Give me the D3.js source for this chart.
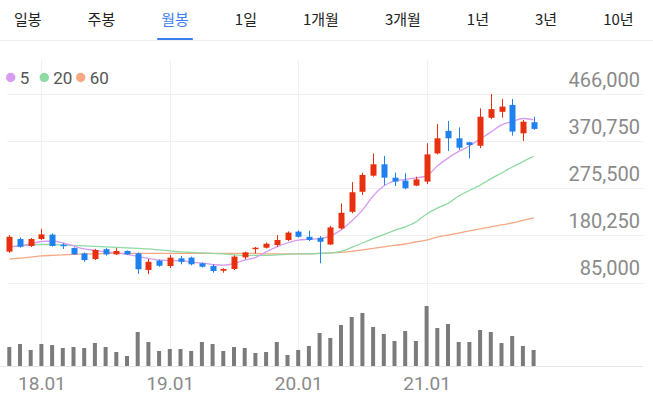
<!DOCTYPE html>
<html><head><meta charset="utf-8">
<script src="https://cdn.jsdelivr.net/npm/d3@7"></script>
<style>
html,body{margin:0;padding:0;background:#fff;}
svg{display:block;font-family:Roboto,"Noto Sans CJK KR",sans-serif;}
</style></head>
<body><svg id="c" width="653" height="396"></svg>
<script>
const tabs = ["일봉","주봉","월봉","1일","1개월","3개월","1년","3년","10년"];
const activeTab = "월봉";
const months = ["17.10","17.11","17.12",
 "18.01","18.02","18.03","18.04","18.05","18.06","18.07","18.08","18.09","18.10","18.11","18.12",
 "19.01","19.02","19.03","19.04","19.05","19.06","19.07","19.08","19.09","19.10","19.11","19.12",
 "20.01","20.02","20.03","20.04","20.05","20.06","20.07","20.08","20.09","20.10","20.11","20.12",
 "21.01","21.02","21.03","21.04","21.05","21.06","21.07","21.08","21.09","21.10","21.11"];
const xTickLabels = ["18.01","19.01","20.01","21.01"];
const yTicks = [85000,180250,275500,370750,466000];
const open  = [147500,173000,159000,173000,182000,161500,155000,144000,132500,152500,142000,149000,144000,110500,129500,118500,134000,135500,124000,118500,109000,112500,136000,153000,155500,161000,171000,188000,177500,175500,162000,194500,228000,268500,301000,324000,297000,291000,281000,289000,346000,391500,376500,368500,361500,418000,430000,444000,386500,409000];
const high  = [181000,176000,175000,193500,184500,164500,156000,146000,153000,154500,154500,150000,146000,132500,131500,141000,139000,137500,125500,122000,114000,140000,147500,157000,166000,181000,188500,190500,190000,179000,199500,245000,288000,307000,346000,341000,307000,306000,299000,366500,405500,411500,398500,369500,437000,466000,456000,456000,413500,420000];
const low   = [145000,155500,157000,171000,157500,153000,141000,127000,130500,139500,141000,141000,102500,102000,117000,114500,122000,120000,115500,105000,105000,110500,132000,144000,154000,157500,169000,176000,169000,124000,161000,192500,225000,262000,299000,282000,280000,273500,280000,284000,344000,351000,353000,336000,356500,415000,418000,382000,371000,393500];
const close = [177500,157500,173000,182500,159000,158500,142000,130500,151000,142000,149000,142000,112000,127000,119000,135500,127000,122000,117000,108500,112500,137500,146000,155500,163500,171000,186000,177500,171000,167500,196500,226000,267500,302500,324000,297000,289000,275500,293500,344000,376500,376500,357500,363000,420000,435500,440500,390000,410000,395500];
const ma5  = [157500,159000,163000,168000,169000,165000,159000,153000,150000,147000,145000,142000,138000,134000,130500,129500,129500,126500,124500,121500,120500,123500,130500,135500,147000,157000,165000,171000,172500,174000,179000,191500,209500,231500,260000,280000,290500,293500,296500,300500,320500,336500,350000,361000,375000,389000,403500,410500,416500,413500];
const ma20 = [157000,159000,161000,162000,162000,161000,160000,159000,158000,157000,156000,155000,154000,153000,151000,149000,147000,146000,145000,144000,143000,141000,140000,140000,140000,141000,142000,143000,143000,144000,145000,148000,156000,165000,174000,182000,190500,197500,207500,223500,235500,245000,260000,271000,282000,294500,306500,318500,329500,340000];
const ma60 = [132500,134500,136500,139000,140000,141000,142000,143000,143000,144000,144000,144000,144000,144000,144000,144000,144000,144000,144000,144000,144000,144000,144000,144000,143000,143000,143000,143000,143000,144000,145000,146000,148000,151000,154000,157000,160000,163000,167000,171000,177000,181000,185000,189500,193500,197500,201500,205500,210500,215500];
const volume = [1900,2200,1600,2200,2100,1800,1900,1800,2300,1900,1400,1000,3400,2400,1500,1700,1700,1500,2400,2200,1500,1900,1800,1300,1400,2400,1100,1600,2000,3300,2800,4100,4900,5300,3900,3200,2500,3500,2500,6000,3800,4200,2400,2400,3600,3400,2300,3000,2000,1600];
const maNames = ["5","20","60"];

const svg = d3.select("#c");
const UP = "#e8300f", DOWN = "#1f80f0";
const maColors = ["#d79bf0","#8fd9a3","#f6a883"];

// tabs
let cx = 14;
const tabG = svg.append("g");
tabs.forEach(t => {
  const tx = tabG.append("text").attr("x", cx).attr("y", 25)
    .attr("font-size", 15).attr("fill", t === activeTab ? "#3b7ff0" : "#222")
    .attr("font-family", "'Noto Sans CJK KR',sans-serif").text(t);
  const w = tx.node().getComputedTextLength();
  if (t === activeTab) {
    tabG.append("rect").attr("x", cx - 4).attr("y", 38).attr("width", w + 8).attr("height", 2).attr("fill", "#3b7ff0");
  }
  cx += w + 46;
});
svg.append("rect").attr("x",0).attr("y",40).attr("width",653).attr("height",1).attr("fill","#ececec");

const x = d3.scalePoint().domain(months).range([9.3, 533.6]);
const y = d3.scaleLinear().domain([85000, 466000]).range([282.6, 94]);
const yv = d3.scaleLinear().domain([0, 7000]).range([366, 296]);

// grid
const grid = svg.append("g");
grid.selectAll("line.h").data(yTicks).join("line")
  .attr("x1", 7).attr("x2", 643).attr("y1", d => Math.round(y(d)) + 0.5).attr("y2", d => Math.round(y(d)) + 0.5)
  .attr("stroke", "#f0f0f0");
grid.selectAll("line.v").data(xTickLabels).join("line")
  .attr("x1", d => Math.round(x(d)) + 0.5).attr("x2", d => Math.round(x(d)) + 0.5)
  .attr("y1", 60).attr("y2", 366).attr("stroke", "#f0f0f0");
svg.append("line").attr("x1",0).attr("x2",643).attr("y1",366.5).attr("y2",366.5).attr("stroke","#e6e6e6");

// y axis labels
const yAxis = d3.axisRight(y).tickValues(yTicks).tickSize(0).tickFormat(d3.format(","));
const ya = svg.append("g").attr("transform","translate(640,0)").call(yAxis);
ya.select(".domain").remove();
ya.selectAll("text").attr("x",0).attr("dy",-8).attr("text-anchor","end")
  .attr("font-size",20).attr("fill","#8a8a8a").attr("font-family","Roboto");

// x axis labels
const xAxis = d3.axisBottom(x).tickValues(xTickLabels).tickSize(0);
const xa = svg.append("g").attr("transform","translate(0,366)").call(xAxis);
xa.select(".domain").remove();
xa.selectAll("text").attr("y",24).attr("dy",0).attr("font-size",19).attr("fill","#8a8a8a").attr("font-family","Roboto");

// volume
svg.append("g").selectAll("rect").data(volume).join("rect")
  .attr("x", (d,i) => x(months[i]) - 2).attr("width", 4)
  .attr("y", d => yv(d)).attr("height", d => 366 - yv(d)).attr("fill", "#7b7b7b");

// moving averages
const line = d3.line().x((d,i) => x(months[i])).y(d => y(d)).curve(d3.curveMonotoneX);
[ma60, ma20, ma5].forEach((arr, k) => {
  svg.append("path").attr("d", line(arr)).attr("fill","none")
    .attr("stroke", maColors[2-k]).attr("stroke-width", 1.3);
});

// candles
const cg = svg.append("g");
months.forEach((m,i) => {
  const up = close[i] >= open[i];
  const col = up ? UP : DOWN;
  const cxp = Math.round(x(m));
  cg.append("line").attr("x1", cxp + 0.5).attr("x2", cxp + 0.5)
    .attr("y1", y(high[i])).attr("y2", y(low[i])).attr("stroke", col).attr("stroke-width", 1);
  const top = y(Math.max(open[i], close[i])), bot = y(Math.min(open[i], close[i]));
  cg.append("rect").attr("x", cxp - 2.5).attr("width", 6)
    .attr("y", top).attr("height", Math.max(1.5, bot - top)).attr("fill", col);
});

// legend
const leg = svg.append("g");
const legX = [10.7, 44.3, 80.7];
maNames.forEach((n,k) => {
  leg.append("circle").attr("cx", legX[k]).attr("cy", 77.5).attr("r", 4.7).attr("fill", maColors[k]);
  leg.append("text").attr("x", legX[k] + 9).attr("y", 83.5).attr("font-size", 17)
    .attr("fill", "#555").attr("font-family","Roboto").text(n);
});
</script></body></html>
